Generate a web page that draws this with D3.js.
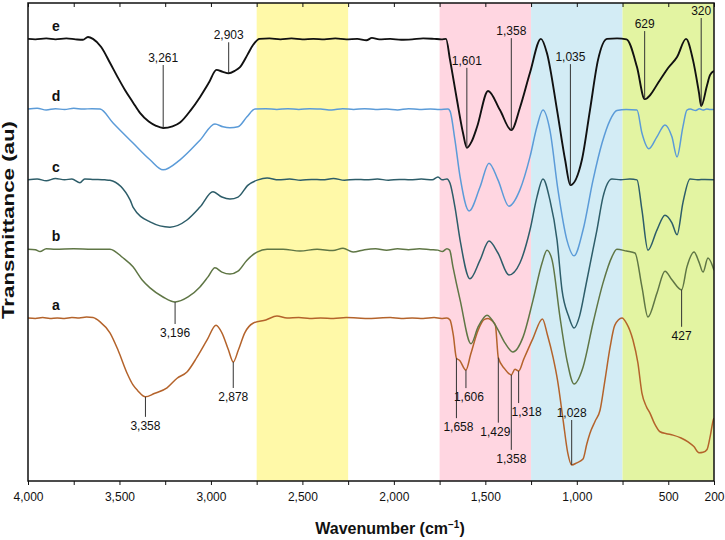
<!DOCTYPE html>
<html>
<head>
<meta charset="utf-8">
<script src="https://cdn.jsdelivr.net/npm/d3@7"></script>
<style>
  body { margin: 0; background: #fff; }
  svg { display: block; }
  text { font-family: "Liberation Sans", Arial, sans-serif; }
</style>
</head>
<body>
<div id="chart"></div>
<script>
// x axis: wavenumber, reversed
var xTicks = d3.range(4000, 249, -250);
var xTickLabels = ["4,000","","3,500","","3,000","","2,500","","2,000","","1,500","","1,000","","500","200"];

// shaded regions (cm-1)
var bandFrom = [2750, 1750, 1250, 750];
var bandTo   = [2250, 1250, 750, 250];
var bandColors = ["#fff9a8", "#ffd6e1", "#d3ecf5", "#e3f4a2"];

// spectra, [wavenumber, transmittance (au, stacked)]
var seriesNames = ["a", "b", "c", "d", "e"];
var seriesColors = ["#b4632b", "#5f7645", "#2d5d69", "#5b9bd8", "#111111"];

var specA = [
  [4000,34.1],[3960,34.0],[3920,34.2],[3880,34.0],[3840,34.1],[3800,34.0],[3760,34.2],[3720,34.1],[3680,34.3],[3645,34.2],
  [3606,33.3],[3552,31.0],[3508,27.4],[3459,22.6],[3426,20.1],[3400,18.9],[3358,17.6],[3310,18.3],[3240,19.5],[3185,21.5],
  [3131,22.8],[3076,25.9],[3021,29.5],[2972,32.6],[2940,31.0],[2905,27.5],[2878,24.9],[2850,27.4],[2815,31.0],[2770,33.0],
  [2700,33.7],[2639,34.5],[2584,34.1],[2520,34.2],[2460,34.0],[2400,34.1],[2330,34.0],[2260,34.2],[2200,34.1],[2140,34.0],
  [2080,34.1],[2020,34.2],[1960,34.0],[1900,34.1],[1840,34.0],[1780,34.2],[1740,34.0],[1710,34.1],[1693,33.7],[1675,30.5],
  [1658,25.7],[1640,25.2],[1606,23.2],[1580,26.5],[1540,31.5],[1505,33.8],[1485,34.0],[1460,33.4],[1445,32.6],[1429,25.8],
  [1395,23.5],[1358,22.2],[1338,23.4],[1318,23.0],[1290,25.5],[1239,29.9],[1188,33.9],[1160,30.5],[1130,25.9],[1105,21.0],
  [1075,12.8],[1050,6.0],[1028,3.35],[1000,3.8],[966,4.6],[945,7.8],[928,10.0],[900,12.5],[873,14.8],[846,21.1],
  [818,28.0],[792,32.6],[753,34.1],[728,33.0],[693,29.5],[666,24.7],[644,18.4],[620,15.6],[600,14.2],[575,12.0],
  [545,10.3],[510,9.9],[474,9.6],[430,9.0],[392,8.2],[360,7.2],[332,5.9],[310,6.0],[288,6.6],[270,9.5],[255,12.6],[250,13.2]
];

var specB = [
  [4000,48.5],[3960,48.4],[3934,48.0],[3900,48.6],[3850,48.5],[3750,48.6],[3650,48.5],[3552,48.5],[3481,46.7],[3426,44.8],
  [3377,42.1],[3333,40.4],[3262,38.5],[3196,37.45],[3125,38.5],[3060,40.6],[3016,42.7],[2978,44.6],[2940,43.7],[2896,43.3],
  [2852,43.9],[2803,46.2],[2748,47.9],[2693,48.5],[2606,48.5],[2513,48.1],[2420,48.5],[2333,48.2],[2278,48.7],[2223,47.9],
  [2160,48.4],[2100,48.6],[2040,48.3],[1980,48.6],[1920,48.4],[1860,48.6],[1800,48.4],[1760,48.3],[1735,48.0],[1710,48.6],
  [1695,48.3],[1677,44.8],[1638,37.9],[1578,28.7],[1540,32.2],[1491,34.7],[1436,32.0],[1393,28.9],[1349,27.0],[1294,30.1],
  [1239,37.9],[1190,45.6],[1163,48.3],[1135,46.2],[1092,34.3],[1054,25.3],[1015,20.3],[966,23.8],[911,33.1],[857,41.4],
  [808,46.9],[781,48.5],[728,48.1],[682,47.7],[644,40.6],[611,34.3],[562,39.3],[518,43.9],[480,42.1],[427,40.0],
  [398,44.8],[359,47.9],[332,45.8],[310,43.7],[283,46.65],[250,44.1]
];

var specC = [
  [4000,63.0],[3950,63.2],[3900,62.8],[3850,63.3],[3800,63.0],[3760,63.2],[3716,62.4],[3690,63.2],[3640,63.1],[3580,63.0],
  [3552,62.9],[3442,58.8],[3426,57.3],[3333,54.2],[3224,53.1],[3131,54.6],[3060,57.3],[2989,60.5],[2940,59.4],[2896,59.0],
  [2852,59.4],[2797,61.9],[2743,63.0],[2693,63.4],[2630,63.0],[2570,63.2],[2510,62.9],[2450,63.1],[2390,63.0],[2330,63.3],
  [2270,62.9],[2210,63.1],[2150,63.0],[2090,63.2],[2030,62.9],[1970,63.1],[1910,63.0],[1850,63.2],[1790,63.0],[1759,63.6],
  [1735,63.0],[1710,63.2],[1693,62.3],[1666,57.3],[1638,50.4],[1584,42.3],[1529,46.2],[1480,50.2],[1431,47.7],[1371,43.1],
  [1311,45.6],[1256,52.5],[1218,59.4],[1185,63.2],[1147,58.8],[1108,50.4],[1081,40.0],[1045,34.5],[1015,32.0],[985,34.5],
  [950,41.0],[911,48.5],[890,52.5],[857,59.4],[808,63.2],[760,63.0],[710,63.2],[671,63.0],[644,56.7],[611,48.3],
  [562,52.5],[518,55.6],[480,54.0],[452,51.5],[420,58.2],[381,63.2],[340,63.0],[300,63.1],[250,63.0]
];

var specD = [
  [4000,77.8],[3950,78.0],[3900,77.6],[3850,77.9],[3800,77.7],[3750,78.0],[3700,77.8],[3650,77.9],[3606,77.8],[3535,74.9],
  [3426,70.7],[3333,67.2],[3262,65.1],[3169,67.2],[3060,71.3],[2978,74.7],[2934,74.1],[2896,73.9],[2852,74.1],[2803,76.2],
  [2759,77.8],[2700,77.9],[2640,77.7],[2580,77.9],[2520,77.7],[2460,77.9],[2400,77.8],[2340,77.6],[2280,77.9],[2220,77.7],
  [2160,77.9],[2100,77.7],[2040,77.8],[1980,77.6],[1920,77.9],[1860,77.7],[1800,77.8],[1750,77.7],[1704,77.8],[1693,77.4],
  [1666,71.3],[1638,63.6],[1589,56.5],[1529,61.5],[1480,66.5],[1431,63.0],[1371,57.5],[1311,60.9],[1256,67.8],[1218,74.1],
  [1185,77.6],[1147,73.4],[1103,60.9],[1054,50.4],[1015,47.1],[966,52.5],[911,63.0],[862,70.7],[818,75.5],[781,77.5],
  [730,77.7],[671,77.6],[644,72.8],[606,69.5],[562,72.0],[518,74.5],[480,72.0],[452,67.8],[420,74.1],[398,77.6],
  [380,77.8],[350,77.5],[330,77.9],[310,77.6],[290,77.8],[270,77.7],[250,77.7]
];

var specE = [
  [4000,92.5],[3960,92.4],[3900,92.6],[3850,92.4],[3790,92.6],[3740,92.4],[3700,92.3],[3672,92.9],[3645,92.5],[3600,90.8],
  [3552,87.5],[3510,84.5],[3470,81.8],[3426,79.2],[3388,77.0],[3340,75.2],[3300,74.3],[3261,73.85],[3210,74.2],[3169,75.0],
  [3110,77.6],[3060,80.3],[3010,83.4],[2970,86.0],[2935,85.6],[2903,85.3],[2870,85.8],[2841,86.6],[2800,89.2],[2770,91.2],
  [2735,92.5],[2680,92.6],[2620,92.4],[2560,92.6],[2500,92.4],[2440,92.5],[2380,92.4],[2320,92.6],[2260,92.4],[2200,92.5],
  [2150,92.2],[2120,92.7],[2080,92.4],[2020,92.5],[1960,92.3],[1900,92.4],[1840,92.6],[1780,92.5],[1740,92.4],[1715,92.5],
  [1693,88.1],[1655,79.7],[1622,72.8],[1601,69.7],[1575,71.0],[1545,74.1],[1485,81.6],[1420,77.6],[1358,73.4],[1310,78.2],
  [1256,85.4],[1196,92.5],[1163,89.5],[1108,77.6],[1064,67.2],[1035,61.9],[972,67.2],[928,77.6],[884,88.1],[835,92.5],
  [780,92.6],[728,92.4],[671,86.6],[629,79.9],[545,83.9],[501,86.4],[452,88.7],[403,92.5],[365,88.1],[332,81.2],
  [320,78.45],[288,82.8],[272,84.9],[250,85.8]
];

var spectra = [specA, specB, specC, specD, specE];

// peak annotations: [series, wavenumber, label]
var peaks = [
  ["e",3261,"3,261"],["e",2903,"2,903"],["e",1601,"1,601"],["e",1358,"1,358"],["e",1035,"1,035"],["e",629,"629"],["e",320,"320"],
  ["b",3196,"3,196"],["b",427,"427"],
  ["a",3358,"3,358"],["a",2878,"2,878"],["a",1658,"1,658"],["a",1606,"1,606"],["a",1429,"1,429"],["a",1358,"1,358"],["a",1318,"1,318"],["a",1028,"1,028"]
];
// leader length in px (negative = label above) and label x nudge
var leaderLen = [-63,-31,-80,-92,-121,-68,-88, 22,37, 20,26,60,18,65,75,32,-45];
var labelDx   = [0,0,0,0,0,0,0, 0,0, 0,0,2,3,-3,0,8,0];

var W = 725, H = 540;
var padL = 28, padR = 714, padT = 3, padB = 481;

var svg = d3.select("#chart").append("svg")
  .attr("width", W).attr("height", H);

var x = d3.scaleLinear().domain([4000, 250]).range([padL, padR]);
var y = d3.scaleLinear().domain([0, 100]).range([padB, padT]);

svg.append("clipPath").attr("id", "plot")
  .append("rect").attr("x", padL).attr("y", padT)
  .attr("width", padR - padL).attr("height", padB - padT);

// bands
svg.append("g").selectAll("rect")
  .data(bandFrom)
  .join("rect")
  .attr("x", function(d) { return x(d); })
  .attr("y", padT)
  .attr("width", function(d, i) { return x(bandTo[i]) - x(d); })
  .attr("height", padB - padT)
  .attr("fill", function(d, i) { return bandColors[i]; });

// spectra
var line = d3.line()
  .x(function(d) { return x(d[0]); })
  .y(function(d) { return y(d[1]); })
  .curve(d3.curveMonotoneX);

svg.append("g").attr("clip-path", "url(#plot)")
  .selectAll("path")
  .data(spectra)
  .join("path")
  .attr("d", line)
  .attr("fill", "none")
  .attr("stroke", function(d, i) { return seriesColors[i]; })
  .attr("stroke-width", function(d, i) { return i === 4 ? 1.9 : 1.5; })
  .attr("stroke-linejoin", "round");

// series letters
svg.append("g").selectAll("text")
  .data(spectra)
  .join("text")
  .attr("x", x(3847))
  .attr("y", function(d) { return y(d[0][1]) - 8; })
  .attr("text-anchor", "middle")
  .attr("font-size", 14)
  .attr("font-weight", "bold")
  .attr("fill", "#111")
  .text(function(d, i) { return seriesNames[i]; });

// peak leaders and labels
function valueAt(name, wn) {
  var s = spectra[seriesNames.indexOf(name)];
  var p = s.find(function(d) { return d[0] === wn; });
  return p ? p[1] : 0;
}

var ann = svg.append("g");
peaks.forEach(function(p, i) {
  var px = x(p[1]);
  var py = y(valueAt(p[0], p[1]));
  var end = py + leaderLen[i];
  ann.append("line")
    .attr("x1", px).attr("x2", px)
    .attr("y1", py).attr("y2", end)
    .attr("stroke", "#333").attr("stroke-width", 1);
  ann.append("text")
    .attr("x", px + labelDx[i])
    .attr("y", leaderLen[i] < 0 ? end - 3 : end + 13)
    .attr("text-anchor", "middle")
    .attr("font-size", 12)
    .attr("fill", "#111")
    .text(p[2]);
});

// axes
var xAxis = d3.axisBottom(x)
  .tickValues(xTicks)
  .tickSize(4)
  .tickSizeOuter(0)
  .tickFormat(function(d, i) { return xTickLabels[i]; });

var gx = svg.append("g")
  .attr("transform", "translate(0," + padB + ")")
  .call(xAxis);
gx.select(".domain").remove();
gx.selectAll("line").attr("stroke", "#111");
gx.selectAll("text")
  .attr("font-size", 12)
  .attr("fill", "#111")
  .attr("font-family", "Liberation Sans, Arial, sans-serif")
  .attr("dy", "1.05em");

var gt = svg.append("g")
  .attr("transform", "translate(0," + padT + ")")
  .call(d3.axisBottom(x).tickValues(xTicks).tickSize(4).tickSizeOuter(0).tickFormat(""));
gt.select(".domain").remove();
gt.selectAll("line").attr("stroke", "#111");

// frame
svg.append("rect")
  .attr("x", padL).attr("y", padT)
  .attr("width", padR - padL).attr("height", padB - padT)
  .attr("fill", "none").attr("stroke", "#111").attr("stroke-width", 1.5);

// titles
var xt = svg.append("text")
  .attr("x", 390).attr("y", 534)
  .attr("text-anchor", "middle")
  .attr("font-size", 16)
  .attr("font-weight", "bold")
  .attr("fill", "#111");
xt.append("tspan").text("Wavenumber (cm");
xt.append("tspan").attr("dy", -6).attr("font-size", 10).text("\u22121");
xt.append("tspan").attr("dy", 6).text(")");

svg.append("text")
  .attr("transform", "translate(14,220) rotate(-90)")
  .attr("text-anchor", "middle")
  .attr("font-size", 16)
  .attr("font-weight", "bold")
  .attr("fill", "#111")
  .attr("textLength", 198)
  .attr("lengthAdjust", "spacingAndGlyphs")
  .text("Transmittance (au)");
</script>
</body>
</html>
